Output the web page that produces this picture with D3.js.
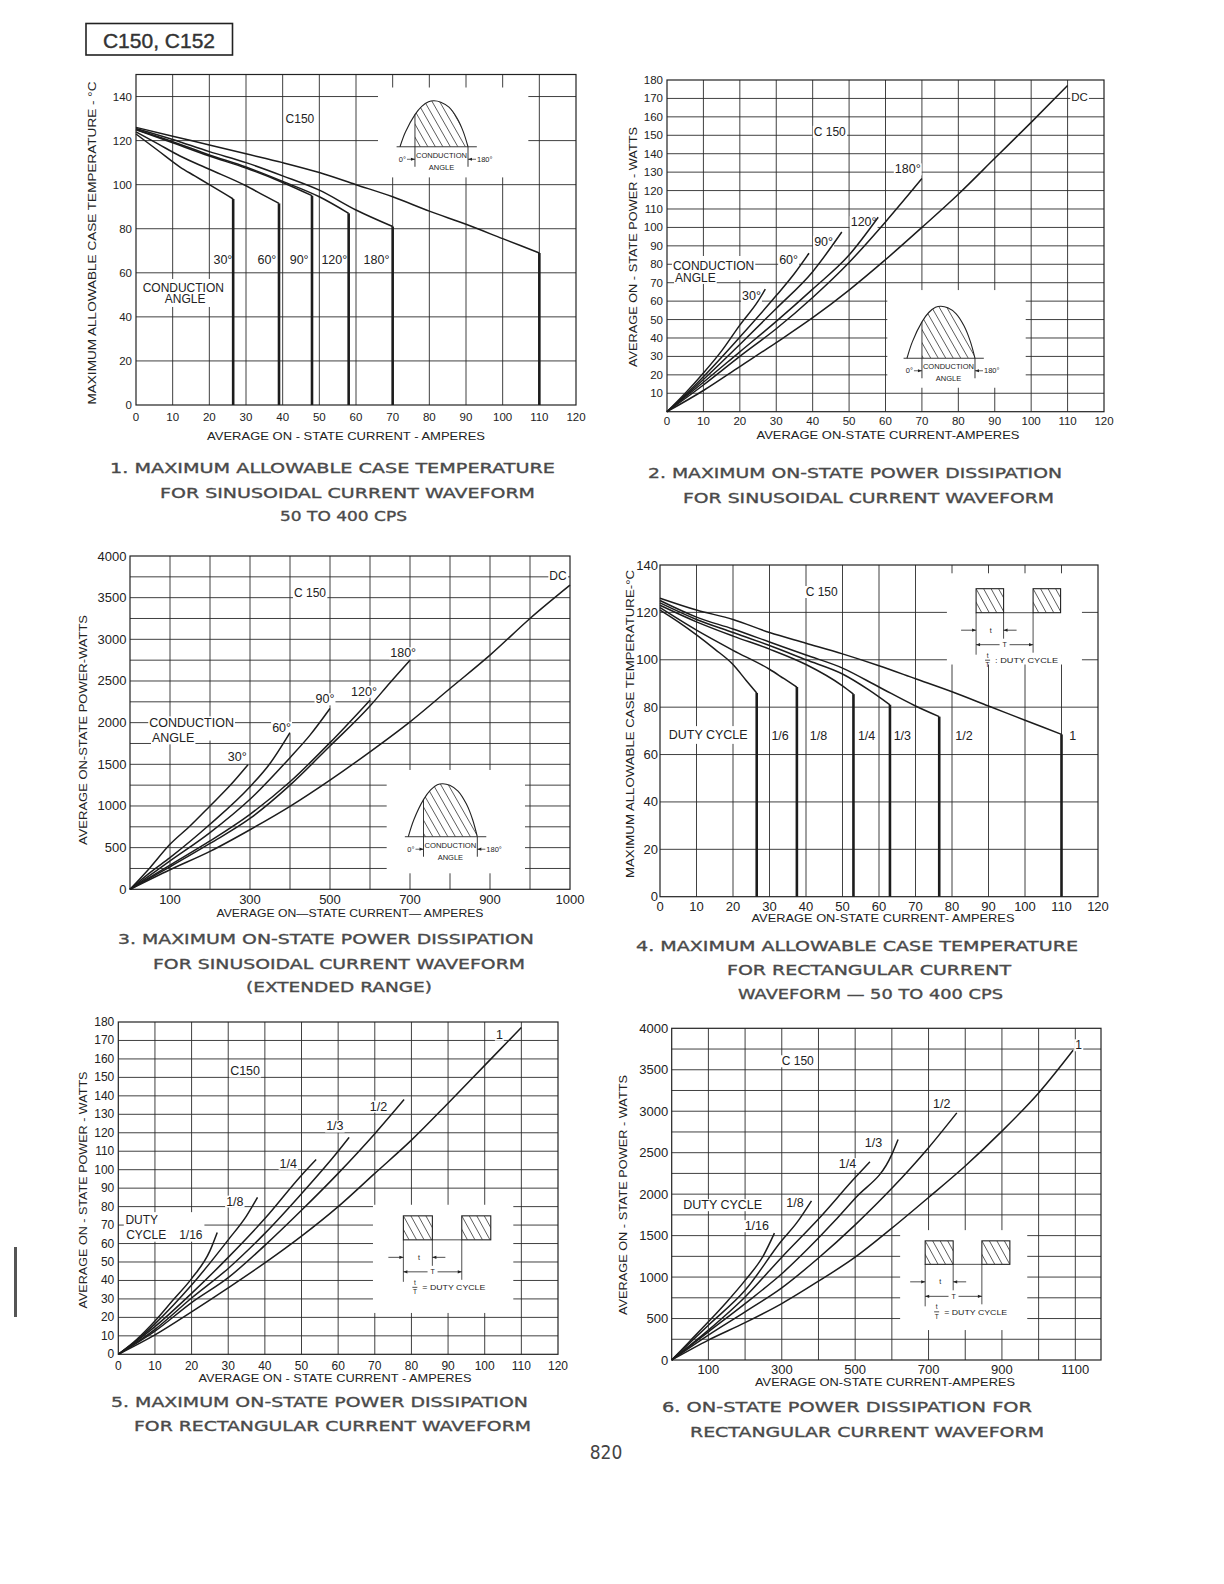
<!DOCTYPE html>
<html>
<head>
<meta charset="utf-8">
<script src="https://cdn.jsdelivr.net/npm/d3@7"></script>
<style>
body { margin: 0; background: #fff; }
svg { display: block; }
text { font-family: "Liberation Sans", Arial, sans-serif; fill: #222; }
</style>
</head>
<body>
<script>
// ---- chart 1: max case temperature, sine wave (current A, temp C)
var c1Names = ["30°", "60°", "90°", "120°", "180°", "DC"];
var c1Deg30  = [[0,123],[6,115.5],[12,108],[16,104],[20,100],[24,96],[26.5,93.5]];
var c1Deg60  = [[0,124],[6,118.5],[12,113],[20,107],[30,99.5],[35,95],[39,91.5]];
var c1Deg90  = [[0,125],[10,119],[20,113],[30,107.5],[40,101],[48,95]];
var c1Deg120 = [[0,125],[10,119.5],[20,113.5],[30,108],[40,101.5],[50,94.5],[58,87]];
var c1Deg180 = [[0,125.5],[10,120.5],[20,115],[30,110],[40,104],[50,97.5],[60,88.5],[70,81]];
var c1DC     = [[0,126],[10,122],[20,118],[30,114],[40,110],[50,105.5],[60,100],[70,94.5],[80,88],[90,82],[100,75.5],[110,69]];

// ---- chart 2: power dissipation, sine wave (current A, power W)
var c2Deg30  = [[0,0],[5,10],[10,21],[15,33],[20,47],[25,60],[27,66.5]];
var c2Deg60  = [[0,0],[5,9],[10,19],[20,40.5],[30,63],[35,75],[39,86]];
var c2Deg90  = [[0,0],[5,8.5],[10,17.5],[20,36.5],[30,56],[40,76],[48,97.5]];
var c2Deg120 = [[0,0],[10,16],[20,32.5],[30,49],[40,66.5],[50,85],[58,105.5]];
var c2Deg180 = [[0,0],[10,14.5],[20,30],[30,45],[40,62],[50,81],[60,103],[70,126.5]];
var c2DC     = [[0,0],[10,11.5],[20,24.5],[30,37.5],[40,51],[50,66],[60,82.5],[70,100],[80,118],[90,137.5],[100,157],[110,177]];

// ---- chart 3: power dissipation, sine wave, extended range
var c3Deg30  = [[0,0],[50,260],[100,540],[150,760],[200,1000],[250,1245],[295,1495]];
var c3Deg60  = [[0,0],[50,200],[100,380],[200,780],[300,1230],[350,1510],[400,1880]];
var c3Deg90  = [[0,0],[100,340],[200,680],[300,1080],[400,1580],[450,1850],[500,2170]];
var c3Deg120 = [[0,0],[100,290],[200,580],[300,900],[400,1290],[500,1760],[600,2270]];
var c3Deg180 = [[0,0],[100,270],[200,550],[300,850],[400,1250],[500,1720],[600,2200],[650,2480],[700,2750]];
var c3DC     = [[0,0],[100,235],[200,455],[300,715],[400,995],[500,1310],[600,1650],[700,2010],[800,2410],[900,2810],[1000,3250],[1100,3650]];

// ---- chart 4: max case temperature, rectangular wave
var c4Duty16 = [[0,121],[5,116],[10,110.5],[15,104.5],[20,98],[23.5,91.5],[26.5,86]];
var c4Duty8  = [[0,122],[10,112.5],[20,104],[30,96],[34,92],[37.5,88.5]];
var c4Duty4  = [[0,123],[10,116],[20,110],[30,104.5],[40,98],[50,89],[53,85.5]];
var c4Duty3  = [[0,124],[10,117],[20,111.5],[30,106],[40,100],[50,94],[57,87.5],[63,81]];
var c4Duty2  = [[0,125],[10,118],[20,113],[30,107.5],[40,102],[50,96.5],[60,88.5],[70,80.5],[76.5,76]];
var c4Duty1  = [[0,126],[10,121],[20,117],[30,111.5],[40,107],[50,102.5],[60,97.5],[70,92],[80,86.5],[90,80.5],[100,74.5],[110,68.5]];

// ---- chart 5: power dissipation, rectangular wave
var c5Duty16 = [[0,0],[5,8],[10,18],[15,29.5],[20,41],[25,56],[27,66]];
var c5Duty8  = [[0,0],[5,7.5],[10,16.5],[20,37.5],[30,62],[35,75],[38,85]];
var c5Duty4  = [[0,0],[10,15],[20,33],[30,52.5],[40,73.5],[50,97],[54,105.5]];
var c5Duty3  = [[0,0],[10,13.5],[20,30.5],[30,46.5],[40,65.5],[50,87],[60,110],[63,117.5]];
var c5Duty2  = [[0,0],[10,12.5],[20,28],[30,41.5],[40,59],[50,78],[60,98],[70,119.5],[78,138]];
var c5Duty1  = [[0,0],[10,10.5],[20,23],[30,36],[40,49.5],[50,64],[60,80],[70,98],[80,116],[90,136],[100,156.5],[110,177]];

// ---- chart 6: power dissipation, rectangular wave, extended range
var c6Duty16 = [[0,0],[50,230],[100,460],[150,700],[200,960],[250,1260],[280,1530]];
var c6Duty8  = [[0,0],[100,420],[200,840],[300,1440],[340,1650],[381,1920]];
var c6Duty4  = [[0,0],[100,360],[200,760],[300,1240],[400,1700],[500,2200],[540,2390]];
var c6Duty3  = [[0,0],[100,340],[200,680],[300,1040],[400,1470],[500,1950],[600,2480],[617,2660]];
var c6Duty2  = [[0,0],[100,300],[200,580],[300,870],[400,1230],[500,1630],[600,2070],[700,2560],[777,2980]];
var c6Duty1  = [[0,0],[100,240],[200,450],[300,680],[400,950],[500,1240],[600,1590],[700,1960],[800,2340],[900,2760],[1000,3220],[1094,3735]];

// tick values and labels
var ampTicks120 = d3.range(0, 121, 10);
var tempTicks = d3.range(0, 141, 20);
var wattTicks180 = d3.range(10, 181, 10);
var wattTicks180z = d3.range(0, 181, 10);
var kwTicks = d3.range(0, 4001, 500);
var bigAmpTicks = [100, 300, 500, 700, 900, 1100];
var bigAmpText3 = ["100", "300", "500", "700", "900", "1000"];
var bigAmpText6 = ["100", "300", "500", "700", "900", "1100"];

var W = 1224, H = 1584;
var svg = d3.select("body").append("svg").attr("width", W).attr("height", H);
svg.append("rect").attr("width", W).attr("height", H).attr("fill", "#fff");
var defs = svg.append("defs");
defs.append("marker").attr("id", "arr").attr("viewBox", "0 0 10 10")
  .attr("refX", 10).attr("refY", 5).attr("markerUnits", "userSpaceOnUse")
  .attr("markerWidth", 5).attr("markerHeight", 4).attr("orient", "auto-start-reverse")
  .append("path").attr("d", "M0,1L10,5L0,9z").attr("fill", "#222");

var line = d3.line().curve(d3.curveMonotoneX);
var clipId = 0;

function sineInset(g, px0, pyB, w, h) {
  var hump = [[0,0],[0.08,0.32],[0.22,0.7],[0.32,0.88],[0.42,0.98],[0.5,1],[0.6,0.97],[0.72,0.86],[0.84,0.62],[0.93,0.33],[1,0]];
  var pts = hump.map(function(p) { return [px0 + p[0] * w, pyB - p[1] * h]; });
  var hs = px0 + 0.22 * w, he = px0 + w;
  var path = d3.line().curve(d3.curveCatmullRom)(pts);
  var id1 = "ck" + (clipId++), id2 = "ck" + (clipId++);
  defs.append("clipPath").attr("id", id1).append("path").attr("d", path + "Z");
  defs.append("clipPath").attr("id", id2).append("rect")
    .attr("x", hs).attr("y", pyB - h - 5).attr("width", he - hs + 2).attr("height", h + 5);
  var hg = g.append("g").attr("clip-path", "url(#" + id1 + ")")
    .append("g").attr("clip-path", "url(#" + id2 + ")");
  hg.selectAll("line").data(d3.range(-8, 12)).enter().append("line")
    .attr("x1", function(k) { return hs + k * 7.5; }).attr("y1", pyB - h - 3)
    .attr("x2", function(k) { return hs + k * 7.5 + 0.57 * (h + 6); }).attr("y2", pyB + 3)
    .attr("stroke", "#333").attr("stroke-width", 0.8);
  g.append("path").attr("d", path).attr("fill", "none").attr("stroke", "#222").attr("stroke-width", 1.1);
  g.append("line").attr("x1", px0 - 0.05 * w).attr("x2", px0 + 1.13 * w).attr("y1", pyB).attr("y2", pyB)
    .attr("stroke", "#222").attr("stroke-width", 0.9);
  g.append("line").attr("x1", hs).attr("x2", hs).attr("y1", pyB - 0.7 * h).attr("y2", pyB + 20)
    .attr("stroke", "#222").attr("stroke-width", 0.9);
  g.append("line").attr("x1", he).attr("x2", he).attr("y1", pyB).attr("y2", pyB + 20)
    .attr("stroke", "#222").attr("stroke-width", 0.9);
  g.append("line").attr("x1", hs - 8).attr("x2", hs).attr("y1", pyB + 12.5).attr("y2", pyB + 12.5)
    .attr("stroke", "#222").attr("stroke-width", 0.7).attr("marker-end", "url(#arr)");
  g.append("line").attr("x1", he + 8).attr("x2", he).attr("y1", pyB + 12.5).attr("y2", pyB + 12.5)
    .attr("stroke", "#222").attr("stroke-width", 0.7).attr("marker-end", "url(#arr)");
  g.append("text").attr("x", hs - 9).attr("y", pyB + 15).attr("text-anchor", "end")
    .attr("font-size", 7.5).text("0°");
  g.append("text").attr("x", he + 9).attr("y", pyB + 15).attr("font-size", 7.5).text("180°");
  g.append("text").attr("x", (hs + he) / 2).attr("y", pyB + 11).attr("text-anchor", "middle")
    .attr("font-size", 7.5).attr("textLength", he - hs - 2).attr("lengthAdjust", "spacingAndGlyphs").text("CONDUCTION");
  g.append("text").attr("x", (hs + he) / 2).attr("y", pyB + 23).attr("text-anchor", "middle")
    .attr("font-size", 7.5).text("ANGLE");
}

function pulseInset(g, px0, py0, bw, bh, T, sep) {
  [px0, px0 + T].forEach(function(bx) {
    var id = "ck" + (clipId++);
    defs.append("clipPath").attr("id", id).append("rect")
      .attr("x", bx).attr("y", py0).attr("width", bw).attr("height", bh);
    g.append("g").attr("clip-path", "url(#" + id + ")").selectAll("line").data(d3.range(-3, 5)).enter()
      .append("line")
      .attr("x1", function(k) { return bx + k * 7.5; }).attr("y1", py0)
      .attr("x2", function(k) { return bx + k * 7.5 + 0.55 * bh; }).attr("y2", py0 + bh)
      .attr("stroke", "#333").attr("stroke-width", 0.8);
    g.append("rect").attr("x", bx).attr("y", py0).attr("width", bw).attr("height", bh)
      .attr("fill", "none").attr("stroke", "#222").attr("stroke-width", 1.1);
  });
  var yb = py0 + bh;
  function ln(x1, y1, x2, y2, mk) {
    var l = g.append("line").attr("x1", x1).attr("y1", y1).attr("x2", x2).attr("y2", y2)
      .attr("stroke", "#222").attr("stroke-width", 0.8);
    if (mk) l.attr("marker-end", "url(#arr)");
    return l;
  }
  ln(px0 + bw, yb, px0 + T, yb);
  ln(px0, yb, px0, yb + 42);
  ln(px0 + bw, yb, px0 + bw, yb + 26);
  ln(px0 + T, yb, px0 + T, yb + 40);
  ln(px0 - 15, yb + 17.5, px0, yb + 17.5, true);
  ln(px0 + bw + 13, yb + 17.5, px0 + bw, yb + 17.5, true);
  ln(px0 + T / 2 - 5, yb + 32, px0, yb + 32, true);
  ln(px0 + T / 2 + 5, yb + 32, px0 + T, yb + 32, true);
  g.append("text").attr("x", px0 + bw / 2 + 1).attr("y", yb + 20).attr("text-anchor", "middle")
    .attr("font-size", 7).text("t");
  g.append("text").attr("x", px0 + T / 2).attr("y", yb + 34.5).attr("text-anchor", "middle")
    .attr("font-size", 7).text("T");
  g.append("text").attr("x", px0 + 11.5).attr("y", yb + 45).attr("text-anchor", "middle")
    .attr("font-size", 6.5).text("t");
  ln(px0 + 9, yb + 47.5, px0 + 14, yb + 47.5);
  g.append("text").attr("x", px0 + 11.5).attr("y", yb + 54.5).attr("text-anchor", "middle")
    .attr("font-size", 6.5).text("T");
  g.append("text").attr("x", px0 + 19).attr("y", yb + 50.5).attr("font-size", 7)
    .attr("textLength", 63).attr("lengthAdjust", "spacingAndGlyphs").text(sep + " DUTY CYCLE");
}

function drawChart(c) {
  var x = d3.scaleLinear().domain(c.xDomain).range([c.left, c.right]);
  var y = d3.scaleLinear().domain(c.yDomain).range([c.bottom, c.top]);
  var g = svg.append("g");

  // grid
  var grid = g.append("g").attr("stroke", "#2b2b2b").attr("stroke-width", 0.9);
  grid.selectAll("line.v").data(d3.range(c.xDomain[0] + c.xStep, c.xDomain[1] - 1e-6, c.xStep))
    .enter().append("line").attr("class", "v")
    .attr("x1", function(d) { return x(d); }).attr("x2", function(d) { return x(d); })
    .attr("y1", c.top).attr("y2", c.bottom);
  grid.selectAll("line.h").data(d3.range(c.yDomain[0] + c.yStep, c.yDomain[1] - 1e-6, c.yStep))
    .enter().append("line").attr("class", "h")
    .attr("y1", function(d) { return y(d); }).attr("y2", function(d) { return y(d); })
    .attr("x1", c.left).attr("x2", c.right);

  // white-out patches
  var masks = g.append("g").attr("fill", "#fff");
  masks.selectAll("rect").data(c.masks).enter().append("rect")
    .attr("x", function(m) { return x(m[0]); }).attr("y", function(m) { return y(m[3]); })
    .attr("width", function(m) { return x(m[1]) - x(m[0]); })
    .attr("height", function(m) { return y(m[2]) - y(m[3]); });

  g.append("rect").attr("x", c.left).attr("y", c.top)
    .attr("width", c.right - c.left).attr("height", c.bottom - c.top)
    .attr("fill", "none").attr("stroke", "#222").attr("stroke-width", 1.2);

  // curves
  var curves = g.append("g").attr("fill", "none").attr("stroke", "#1c1c1c");
  curves.selectAll("path").data(c.series).enter().append("path")
    .attr("d", function(s) { return line(s.map(function(p) { return [x(p[0]), y(p[1])]; })); })
    .attr("stroke-width", 1.5);
  if (c.drop) {
    curves.selectAll("line").data(c.series).enter().append("line")
      .attr("x1", function(s) { return x(s[s.length - 1][0]); })
      .attr("x2", function(s) { return x(s[s.length - 1][0]); })
      .attr("y1", function(s) { return y(s[s.length - 1][1]); })
      .attr("y2", y(0)).attr("stroke-width", 2.6);
  }

  // curve labels with white patches behind
  c.labels.forEach(function(l) {
    var t = g.append("text").attr("x", x(l[1])).attr("y", y(l[2]))
      .attr("text-anchor", "middle").attr("dominant-baseline", "central")
      .attr("font-size", l[3] || 12.5).text(l[0]);
    var b = t.node().getBBox();
    masks.append("rect").attr("x", b.x - 1).attr("y", b.y + 1).attr("width", b.width + 2).attr("height", b.height - 2);
  });

  if (c.inset) c.inset(g, x, y);

  // tick labels
  var fs = c.tickSize;
  g.selectAll("text.xt").data(c.xTicks).enter().append("text").attr("class", "xt")
    .attr("x", function(d) { return x(d); }).attr("y", c.bottom + c.xLabelDy)
    .attr("text-anchor", "middle").attr("dominant-baseline", "central").attr("font-size", fs)
    .text(function(d, i) { return c.xText ? c.xText[i] : d; });
  g.selectAll("text.yt").data(c.yTicks).enter().append("text").attr("class", "yt")
    .attr("x", c.left - c.yLabelDx).attr("y", function(d) { return y(d); })
    .attr("text-anchor", "end").attr("dominant-baseline", "central").attr("font-size", fs)
    .text(function(d) { return d; });

  // axis titles
  g.append("text").attr("x", c.xTitle[0]).attr("y", c.xTitle[1]).attr("text-anchor", "middle")
    .attr("dominant-baseline", "central").attr("font-size", 11)
    .attr("textLength", c.xTitle[2]).attr("lengthAdjust", "spacingAndGlyphs").text(c.xTitle[3]);
  g.append("text").attr("transform", "translate(" + c.yTitle[0] + "," + c.yTitle[1] + ") rotate(-90)")
    .attr("text-anchor", "middle").attr("dominant-baseline", "central").attr("font-size", 11)
    .attr("textLength", c.yTitle[2]).attr("lengthAdjust", "spacingAndGlyphs").text(c.yTitle[3]);

  // caption
  c.caption.forEach(function(cl) {
    svg.append("text").attr("x", cl[0]).attr("y", cl[1]).attr("dominant-baseline", "central")
      .attr("font-size", 14.5).style("font-family", "'DejaVu Sans', sans-serif")
      .style("fill", "#4a4a4a").style("stroke", "#4a4a4a").style("stroke-width", 0.35)
      .attr("textLength", cl[2]).attr("lengthAdjust", "spacingAndGlyphs").text(cl[3]);
  });
}

var charts = [
  { left: 136, right: 576, top: 74.5, bottom: 405, xDomain: [0, 120], yDomain: [0, 150], xStep: 10, yStep: 20,
    xTicks: ampTicks120, yTicks: tempTicks, tickSize: 11.5, xLabelDy: 12.3, yLabelDx: 4,
    series: [c1Deg30, c1Deg60, c1Deg90, c1Deg120, c1Deg180, c1DC], drop: true,
    masks: [[66, 107, 103.3, 144.1], [1, 25, 44.5, 57.2]],
    labels: [["C150", 44.7, 129.8, 12], [c1Names[0], 23.7, 65.8], [c1Names[1], 35.7, 65.8], [c1Names[2], 44.5, 65.8],
             [c1Names[3], 54.1, 65.8], [c1Names[4], 65.6, 65.8], ["CONDUCTION", 12.9, 53.2, 12], ["ANGLE", 13.4, 48.2, 12]],
    inset: function(g, x, y) { sineInset(g, x(72), y(117.2), 68, 46); },
    xTitle: [346, 436, 278, "AVERAGE ON - STATE  CURRENT - AMPERES"],
    yTitle: [92, 243, 323, "MAXIMUM  ALLOWABLE  CASE  TEMPERATURE - °C"],
    caption: [[110, 468, 445, "1.  MAXIMUM ALLOWABLE CASE TEMPERATURE"], [160, 493, 375, "FOR SINUSOIDAL CURRENT WAVEFORM"],
              [280, 516, 127, "50 TO 400 CPS"]] },
  { left: 667, right: 1104, top: 80, bottom: 411.7, xDomain: [0, 120], yDomain: [0, 180], xStep: 10, yStep: 10,
    xTicks: ampTicks120, yTicks: wattTicks180, tickSize: 11.5, xLabelDy: 9, yLabelDx: 4,
    series: [c2Deg30, c2Deg60, c2Deg90, c2Deg120, c2Deg180, c2DC],
    masks: [[60.5, 98.5, 13, 66], [1.8, 23.7, 71.3, 84.5]],
    labels: [["DC", 113.3, 170.9, 11.5], ["C 150", 44.7, 151.9, 12], [c1Names[4], 66.1, 131.5], [c1Names[3], 54, 102.8],
             [c1Names[2], 43, 92.2], [c1Names[1], 33.4, 82.3], [c1Names[0], 23.2, 62.8],
             ["CONDUCTION", 12.8, 79.2, 12], ["ANGLE", 7.8, 72.6, 12]],
    inset: function(g, x, y) { sineInset(g, x(65.9), y(29), 68, 52); },
    xTitle: [888, 435, 263, "AVERAGE ON-STATE CURRENT-AMPERES"],
    yTitle: [633, 247, 240, "AVERAGE  ON - STATE  POWER - WATTS"],
    caption: [[648, 473, 414, "2.  MAXIMUM ON-STATE POWER DISSIPATION"], [683, 497.5, 371, "FOR SINUSOIDAL CURRENT WAVEFORM"]] },
  { left: 130, right: 570, top: 556, bottom: 889.3, xDomain: [0, 1100], yDomain: [0, 4000], xStep: 100, yStep: 250,
    xTicks: bigAmpTicks, xText: bigAmpText3, yTicks: kwTicks, tickSize: 13, xLabelDy: 9.7, yLabelDx: 3.5,
    series: [c3Deg30, c3Deg60, c3Deg90, c3Deg120, c3Deg180, c3DC],
    masks: [[641.7, 987.5, 192, 1432], [55, 255, 1785, 2075]],
    labels: [["DC", 1070, 3760, 12], ["C 150", 450, 3552, 12], [c1Names[4], 683, 2832], [c1Names[3], 585, 2371],
             [c1Names[2], 487.5, 2280], [c1Names[1], 379, 1939], [c1Names[0], 268, 1591],
             ["CONDUCTION", 154, 1992, 12.5], ["ANGLE", 108, 1812, 12.5]],
    inset: function(g, x, y) { sineInset(g, x(695.8), y(631), 69, 53); },
    xTitle: [350, 913, 267, "AVERAGE ON—STATE CURRENT— AMPERES"],
    yTitle: [83, 730, 230, "AVERAGE  ON-STATE  POWER-WATTS"],
    caption: [[118, 939, 416, "3.  MAXIMUM ON-STATE POWER DISSIPATION"], [153, 963.5, 372, "FOR SINUSOIDAL CURRENT WAVEFORM"],
              [246, 987, 186, "(EXTENDED RANGE)"]] },
  { left: 660, right: 1098, top: 565, bottom: 896.7, xDomain: [0, 120], yDomain: [0, 140], xStep: 10, yStep: 20,
    xTicks: ampTicks120, yTicks: tempTicks, tickSize: 13, xLabelDy: 9.3, yLabelDx: 2,
    series: [c4Duty16, c4Duty8, c4Duty4, c4Duty3, c4Duty2, c4Duty1], drop: true,
    masks: [[78.6, 115.6, 98, 136.5], [2, 24.5, 64.5, 72]],
    labels: [["C 150", 44.3, 128.6, 12], ["DUTY  CYCLE", 13.2, 68.2, 12.5], ["1/6", 32.9, 67.8], ["1/8", 43.4, 67.8],
             ["1/4", 56.6, 67.8], ["1/3", 66.4, 67.8], ["1/2", 83.3, 67.8], ["1", 113.1, 67.8]],
    inset: function(g, x, y) { pulseInset(g, x(86.6), y(130), 27.5, 24, 57, ":"); },
    xTitle: [883, 918, 263, "AVERAGE  ON-STATE  CURRENT- AMPERES"],
    yTitle: [630, 724, 308, "MAXIMUM  ALLOWABLE  CASE  TEMPERATURE-°C"],
    caption: [[636, 946, 442, "4.  MAXIMUM ALLOWABLE CASE TEMPERATURE"], [727, 969.5, 284, "FOR RECTANGULAR CURRENT"],
              [738, 994, 265, "WAVEFORM — 50 TO 400 CPS"]] },
  { left: 118.3, right: 558, top: 1022, bottom: 1354.3, xDomain: [0, 120], yDomain: [0, 180], xStep: 10, yStep: 10,
    xTicks: ampTicks120, yTicks: wattTicks180z, tickSize: 12, xLabelDy: 11.4, yLabelDx: 4,
    series: [c5Duty16, c5Duty8, c5Duty4, c5Duty3, c5Duty2, c5Duty1],
    masks: [[69.5, 107.8, 22.4, 81], [1.5, 23.5, 61, 77]],
    labels: [["C150", 34.6, 153.2, 12.5], ["1", 104, 173.1], ["1/2", 71, 134.2], ["1/3", 59.1, 123.4], ["1/4", 46.4, 103.2],
             ["1/8", 31.8, 82.7], ["DUTY", 6.4, 72.8, 12], ["CYCLE", 7.6, 64.7, 12], ["1/16", 19.8, 64.7, 12]],
    inset: function(g, x, y) { pulseInset(g, x(77.8), y(75), 29, 24, 58.4, "="); },
    xTitle: [335, 1378, 273, "AVERAGE  ON - STATE  CURRENT - AMPERES"],
    yTitle: [83, 1190, 237, "AVERAGE  ON - STATE  POWER - WATTS"],
    caption: [[111, 1401.5, 417, "5.  MAXIMUM ON-STATE POWER DISSIPATION"], [134, 1425.7, 397, "FOR RECTANGULAR CURRENT WAVEFORM"]] },
  { left: 671.7, right: 1101, top: 1028.3, bottom: 1360, xDomain: [0, 1170], yDomain: [0, 4000], xStep: 100, yStep: 250,
    xTicks: bigAmpTicks, xText: bigAmpText6, yTicks: kwTicks, tickSize: 13, xLabelDy: 9, yLabelDx: 3.5,
    series: [c6Duty16, c6Duty8, c6Duty4, c6Duty3, c6Duty2, c6Duty1],
    masks: [[622.6, 969, 361, 1566]],
    labels: [["1", 1109, 3795, 12], ["C 150", 343.6, 3602, 12], ["1/2", 736, 3093], ["1/3", 550, 2611], ["1/4", 479, 2361],
             ["DUTY  CYCLE", 139, 1867, 12.5], ["1/8", 336, 1888], ["1/16", 232, 1614]],
    inset: function(g, x, y) { pulseInset(g, x(690.8), y(1437), 28, 23.5, 56.7, "="); },
    xTitle: [885, 1382, 260, "AVERAGE  ON-STATE  CURRENT-AMPERES"],
    yTitle: [623, 1195, 240, "AVERAGE  ON - STATE  POWER - WATTS"],
    caption: [[662, 1406.5, 370, "6.   ON-STATE POWER DISSIPATION FOR"], [690, 1432, 354, "RECTANGULAR CURRENT WAVEFORM"]] }
];

charts.forEach(drawChart);

// page header, number, scan mark
svg.append("rect").attr("x", 86).attr("y", 23.5).attr("width", 146.5).attr("height", 31.5)
  .attr("fill", "none").attr("stroke", "#222").attr("stroke-width", 1.6);
svg.append("text").attr("x", 159).attr("y", 40).attr("text-anchor", "middle").attr("dominant-baseline", "central")
  .attr("font-size", 21).style("fill", "#333").style("stroke", "#333").style("stroke-width", 0.4)
  .text("C150, C152");
svg.append("text").attr("x", 606).attr("y", 1452).attr("text-anchor", "middle").attr("dominant-baseline", "central")
  .attr("font-size", 19).style("font-family", "'DejaVu Sans Condensed', 'DejaVu Sans', sans-serif").style("fill", "#444")
  .text("820");
svg.append("rect").attr("x", 14).attr("y", 1247).attr("width", 3).attr("height", 70).attr("fill", "#555");
</script>
</body>
</html>
